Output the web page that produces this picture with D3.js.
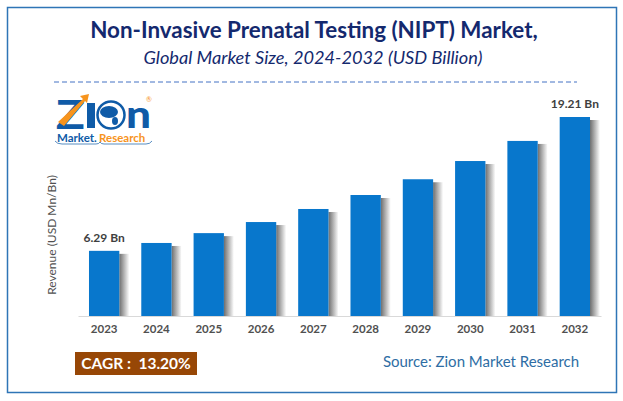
<!DOCTYPE html>
<html>
<head>
<meta charset="utf-8">
<script src="https://cdn.jsdelivr.net/npm/d3@7"></script>
<style>
html, body { margin: 0; padding: 0; background: #fff; }
svg { display: block; }
text { font-family: Lato, "Open Sans", sans-serif; }
</style>
</head>
<body>
<div id="chart"></div>
<script>
var years = ["2023", "2024", "2025", "2026", "2027", "2028", "2029", "2030", "2031", "2032"];
var revenue = [6.29, 7.05, 8.0, 9.07, 10.33, 11.68, 13.2, 14.96, 16.9, 19.21];
var barLabels = { "2023": "6.29 Bn", "2032": "19.21 Bn" };

var svg = d3.select("#chart").append("svg")
    .attr("width", 623)
    .attr("height", 401);

// outer frame
svg.append("rect")
    .attr("x", 7.5).attr("y", 7.5)
    .attr("width", 609).attr("height", 385)
    .attr("fill", "#fff")
    .attr("stroke", "#2e75b6")
    .attr("stroke-width", 1.5);

svg.append("text")
    .attr("x", 314).attr("y", 38)
    .attr("text-anchor", "middle")
    .style("font-size", "22.4px").style("font-weight", "700")
    .style("fill", "#14296e")
    .text("Non-Invasive Prenatal Testing (NIPT) Market,");

svg.append("text")
    .attr("x", 313).attr("y", 64)
    .attr("text-anchor", "middle")
    .style("font-size", "18.2px").style("font-style", "italic")
    .style("fill", "#14296e")
    .text("Global Market Size, 2024-2032 (USD Billion)");

svg.append("line")
    .attr("x1", 54).attr("x2", 577)
    .attr("y1", 82).attr("y2", 82)
    .attr("stroke", "#4472c4")
    .attr("stroke-dasharray", "5,3");

var x = d3.scaleBand().domain(years).range([78, 601]).paddingInner(0.42).paddingOuter(0.21);
var y = d3.scaleLinear().domain([0, 19.21]).range([316, 117]);

var grad = svg.append("defs").append("linearGradient").attr("id", "shadow");
grad.append("stop").attr("offset", "0%").attr("stop-color", "#6e6e6e");
grad.append("stop").attr("offset", "100%").attr("stop-color", "#fff");

// soft shadow on the right of each bar
svg.selectAll(".shadow").data(revenue).enter().append("rect")
    .attr("class", "shadow")
    .attr("x", function(d, i) { return x(years[i]) + x.bandwidth(); })
    .attr("y", function(d) { return y(d) + 3; })
    .attr("width", 10)
    .attr("height", function(d) { return 316 - y(d) - 3; })
    .attr("fill", "url(#shadow)");

svg.selectAll(".bar").data(revenue).enter().append("rect")
    .attr("class", "bar")
    .attr("x", function(d, i) { return x(years[i]); })
    .attr("y", function(d) { return y(d); })
    .attr("width", x.bandwidth())
    .attr("height", function(d) { return 316 - y(d); })
    .attr("fill", "#0877cc");

var xAxis = svg.append("g")
    .attr("transform", "translate(0,316)")
    .call(d3.axisBottom(x).tickSize(0).tickPadding(9));
xAxis.select(".domain").attr("stroke", "#d9d9d9").attr("stroke-width", 1.2);
xAxis.selectAll("text")
    .style("font-family", "Lato")
    .style("font-size", "11.5px").style("font-weight", "700")
    .style("fill", "#505050");

svg.selectAll(".barLabel").data(years.filter(function(d) { return barLabels[d]; })).enter().append("text")
    .attr("class", "barLabel")
    .attr("x", function(d) { return x(d) + x.bandwidth() / 2; })
    .attr("y", function(d) { return y(revenue[years.indexOf(d)]) - 9; })
    .attr("text-anchor", "middle")
    .style("font-size", "12px").style("font-weight", "700")
    .style("fill", "#404040")
    .text(function(d) { return barLabels[d]; });

svg.append("text")
    .attr("transform", "translate(56,235) rotate(-90)")
    .attr("text-anchor", "middle")
    .style("font-size", "12px")
    .style("fill", "#505050")
    .text("Revenue (USD Mn/Bn)");

// CAGR badge
svg.append("rect")
    .attr("x", 75).attr("y", 352)
    .attr("width", 122).attr("height", 23)
    .attr("fill", "#974706");
svg.append("text")
    .attr("x", 136).attr("y", 369)
    .attr("text-anchor", "middle")
    .attr("xml:space", "preserve")
    .style("font-size", "15.5px").style("font-weight", "700")
    .style("fill", "#fff")
    .text("CAGR :  13.20%");

svg.append("text")
    .attr("x", 481).attr("y", 367)
    .attr("text-anchor", "middle")
    .style("font-size", "15px")
    .style("fill", "#2e6da4")
    .text("Source: Zion Market Research");

// logo
var logo = svg.append("g");
logo.append("text").attr("x", 56).attr("y", 129)
    .style("font-size", "39px").style("font-weight", "900")
    .style("fill", "#0f5ba7").attr("textLength", 29).attr("lengthAdjust", "spacingAndGlyphs").text("Z");
logo.append("path")
    .attr("d", "M58 122 L83 99 L80 96 L89 94 L87 103 L85 101 L64 126 Z")
    .attr("fill", "#f7941d");
logo.append("rect").attr("x", 87).attr("y", 103).attr("width", 8).attr("height", 25).attr("fill", "#0f5ba7");
logo.append("circle").attr("cx", 111).attr("cy", 115).attr("r", 13.5)
    .attr("fill", "#fff").attr("stroke", "#0f5ba7").attr("stroke-width", 2.5);
logo.append("ellipse").attr("cx", 109).attr("cy", 112).attr("rx", 9).attr("ry", 6).attr("fill", "#0f5ba7");
logo.append("ellipse").attr("cx", 115).attr("cy", 121).attr("rx", 3).attr("ry", 4).attr("fill", "#0f5ba7");
logo.append("text").attr("x", 126).attr("y", 128)
    .style("font-size", "38px").style("font-weight", "900")
    .style("fill", "#0f5ba7").attr("textLength", 25).attr("lengthAdjust", "spacingAndGlyphs").text("n");
logo.append("text").attr("x", 146).attr("y", 102)
    .style("font-size", "7px").style("fill", "#f7941d").text("®");
logo.append("text").attr("x", 57).attr("y", 142)
    .style("font-size", "11.5px").style("font-weight", "700")
    .style("fill", "#0f5ba7").text("Market.");
logo.append("text").attr("x", 99).attr("y", 142)
    .style("font-size", "11.5px").style("font-weight", "700")
    .style("fill", "#f7941d").text("Research");
logo.append("path")
    .attr("d", "M55 141 Q57 144 62 144 L96 144 Q99 144 100 142 Q101 144 104 144 L146 144 Q150 144 152 141")
    .attr("fill", "none").attr("stroke", "#0f5ba7").attr("stroke-width", 0.7);
</script>
</body>
</html>
